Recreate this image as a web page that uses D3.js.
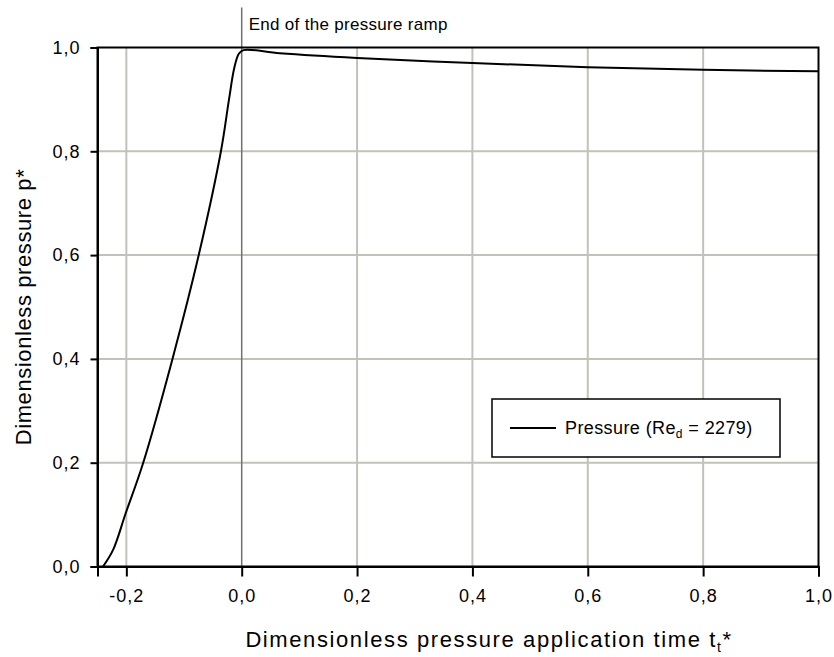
<!DOCTYPE html>
<html>
<head>
    <meta charset="utf-8">
    <title>Dimensionless pressure</title>
    <script src="https://d3js.org/d3.v7.min.js"></script>
    <style>
        body { margin: 0; background: #fff; }
        text { font-family: "Liberation Sans", Arial, sans-serif; fill: #000; }
    </style>
</head>
<body>
    <div id="chart"></div>

    <script>
        // pressure curve (t*, p*)
        var timeValues = [-0.2404, -0.223, -0.201, -0.171, -0.12, -0.0745, -0.036, -0.022, -0.013, -0.005, 0.003, 0.066, 0.2, 0.4, 0.6, 0.8, 1.0];
        var pressureValues = [0.0, 0.032, 0.103, 0.199, 0.400, 0.600, 0.800, 0.900, 0.960, 0.988, 0.995, 0.989, 0.980, 0.970, 0.962, 0.957, 0.954];
        var xTicks = [-0.2, 0.0, 0.2, 0.4, 0.6, 0.8, 1.0];
        var yTicks = [0.0, 0.2, 0.4, 0.6, 0.8, 1.0];
        var rampEnd = 0.0;

        var margin = {top: 47.5, right: 15, bottom: 90, left: 97.5},
            w = 721,
            h = 519;

        var svg = d3.select("#chart")
          .append("svg")
            .attr("width", 834)
            .attr("height", 657)
          .append("g")
            .attr("transform", "translate(" + margin.left + "," + margin.top + ")");

        var x = d3.scaleLinear().domain([-0.25, 1.0]).range([0, w]);
        var y = d3.scaleLinear().domain([0, 1.0]).range([h, 0]);

        var fmt = function(d) { return d3.format(".1f")(d).replace(".", ",").replace("−", "-"); };

        // grid
        svg.append("g")
          .selectAll("line")
          .data(xTicks.filter(function(d) { return d !== 0 && d !== 1; }))
          .enter().append("line")
            .attr("x1", function(d) { return x(d); })
            .attr("x2", function(d) { return x(d); })
            .attr("y1", 0).attr("y2", h)
            .attr("stroke", "#c2c2b8")
            .attr("stroke-width", 2);

        svg.append("g")
          .selectAll("line")
          .data(yTicks.filter(function(d) { return d !== 0 && d !== 1; }))
          .enter().append("line")
            .attr("x1", 0).attr("x2", w)
            .attr("y1", function(d) { return y(d); })
            .attr("y2", function(d) { return y(d); })
            .attr("stroke", "#c2c2b8")
            .attr("stroke-width", 2);

        // end of ramp marker
        svg.append("line")
            .attr("x1", x(rampEnd)).attr("x2", x(rampEnd))
            .attr("y1", -40).attr("y2", h)
            .attr("stroke", "#707070")
            .attr("stroke-width", 1.5);

        svg.append("text")
            .attr("x", x(rampEnd) + 7)
            .attr("y", -18)
            .style("font-size", "17px")
            .style("letter-spacing", "0.3px")
            .text("End of the pressure ramp");

        // curve
        svg.append("clipPath").attr("id", "clip")
          .append("rect").attr("width", w).attr("height", h);

        var data = timeValues.map(function(t, i) { return {t: t, p: pressureValues[i]}; });

        svg.append("path")
            .datum(data)
            .attr("clip-path", "url(#clip)")
            .attr("fill", "none")
            .attr("stroke", "#000")
            .attr("stroke-width", 2)
            .attr("d", d3.line()
                .x(function(d) { return x(d.t); })
                .y(function(d) { return y(d.p); })
                .curve(d3.curveCatmullRom.alpha(0.5)));

        // frame
        svg.append("rect")
            .attr("width", w).attr("height", h)
            .attr("fill", "none")
            .attr("stroke", "#000")
            .attr("stroke-width", 2);

        // axes
        var xAxis = svg.append("g")
            .attr("transform", "translate(0," + h + ")")
            .call(d3.axisBottom(x).tickValues(xTicks).tickFormat(fmt).tickSize(10).tickPadding(13));
        var yAxis = svg.append("g")
            .call(d3.axisLeft(y).tickValues(yTicks).tickFormat(fmt).tickSize(7).tickPadding(10));

        [xAxis, yAxis].forEach(function(a) {
            a.select(".domain").attr("stroke-width", 2);
            a.selectAll(".tick line").attr("stroke-width", 2);
            a.selectAll("text")
                .style("font-size", "18px")
                .style("letter-spacing", "1px")
                .style("font-family", "'Liberation Sans', Arial, sans-serif");
        });

        // axis titles
        var xt = svg.append("text")
            .attr("x", 489 - margin.left)
            .attr("y", h + 80)
            .style("text-anchor", "middle")
            .style("font-size", "22px")
            .style("letter-spacing", "1.6px");
        xt.append("tspan").text("Dimensionless pressure application time t");
        xt.append("tspan").attr("dy", 5).style("font-size", "14px").text("t");
        xt.append("tspan").attr("dy", -5).text("*");

        svg.append("text")
          .attr("transform", "rotate(-90)")
          .attr("x", -h / 2)
          .attr("y", -margin.left + 31)
          .style("text-anchor", "middle")
          .style("font-size", "22px")
          .style("letter-spacing", "0.6px")
          .text("Dimensionless pressure p*");

        // legend
        var lg = svg.append("g").attr("transform", "translate(" + (492 - margin.left) + "," + (399 - margin.top) + ")");
        lg.append("rect")
            .attr("width", 288).attr("height", 58)
            .attr("fill", "#fff")
            .attr("stroke", "#000")
            .attr("stroke-width", 1.5);
        lg.append("line")
            .attr("x1", 18).attr("x2", 64)
            .attr("y1", 29).attr("y2", 29)
            .attr("stroke", "#000")
            .attr("stroke-width", 2);
        var lt = lg.append("text")
            .attr("x", 73).attr("y", 35)
            .style("font-size", "18px")
            .style("letter-spacing", "0.4px");
        lt.append("tspan").text("Pressure (Re");
        lt.append("tspan").attr("dy", 4).style("font-size", "12px").text("d");
        lt.append("tspan").attr("dy", -4).text(" = 2279)");
    </script>
</body>
</html>
